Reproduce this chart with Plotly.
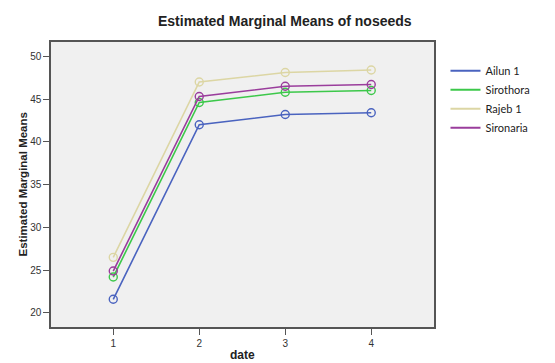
import plotly.graph_objects as go

dates = [1, 2, 3, 4]
series_names = ["Ailun 1", "Sirothora", "Rajeb 1", "Sironaria"]
ailun = [21.6, 42.0, 43.2, 43.4]
sirothora = [24.2, 44.6, 45.8, 46.0]
rajeb = [26.5, 47.0, 48.1, 48.4]
sironaria = [24.9, 45.3, 46.5, 46.7]
colors = ["#4a63bf", "#3cc84a", "#dcd6a4", "#9a3d9c"]
y_ticks = [20, 25, 30, 35, 40, 45, 50]

fig = go.Figure()
for name, vals, col in zip(series_names, [ailun, sirothora, rajeb, sironaria], colors):
    fig.add_trace(go.Scatter(
        x=dates, y=vals, name=name, mode="lines+markers", showlegend=False,
        line=dict(color=col, width=1.6),
        marker=dict(symbol="circle-open", size=8, color=col, line=dict(width=1.4, color=col)),
    ))
for name, col in zip(series_names, colors):
    fig.add_trace(go.Scatter(x=[None], y=[None], name=name, mode="lines",
                             line=dict(color=col, width=2)))

fig.update_layout(
    width=555, height=363,
    margin=dict(l=51, r=121, t=42, b=36),
    paper_bgcolor="white", plot_bgcolor="#f0f0f0",
    font=dict(family="Liberation Sans, Arial", color="#333333", size=10),
    showlegend=True,
    legend=dict(x=1.03, y=0.95, xanchor="left", yanchor="top",
                font=dict(family="Lato, Liberation Sans", size=11, color="#222"),
                tracegroupgap=0, itemwidth=30, bgcolor="rgba(0,0,0,0)"),
    annotations=[
        dict(text="<b>Estimated Marginal Means of noseeds</b>", xref="paper", yref="paper",
             x=0.61, y=1.0, yshift=21, xanchor="center", yanchor="middle", showarrow=False,
             font=dict(family="Liberation Sans, Arial", size=14, color="#222")),
        dict(text="<b>Estimated Marginal Means</b>", xref="paper", yref="paper",
             x=0, y=0.5, xshift=-29, xanchor="center", yanchor="middle", showarrow=False,
             textangle=-90, font=dict(family="Liberation Sans, Arial", size=11.5, color="#222")),
        dict(text="<b>date</b>", xref="paper", yref="paper",
             x=0.5, y=0, yshift=-28, xanchor="center", yanchor="middle", showarrow=False,
             font=dict(family="Liberation Sans, Arial", size=12, color="#222")),
    ],
    xaxis=dict(range=[0.276, 4.73], tickvals=dates, ticks="outside", ticklen=6, tickcolor="#555",
               automargin=False,
               showgrid=False, zeroline=False, showline=True, linecolor="#555", linewidth=1.5, mirror=True,
               tickfont=dict(size=10, color="#333")),
    yaxis=dict(range=[18.36, 51.67], tickvals=y_ticks, ticks="outside", ticklen=6, tickcolor="#555",
               automargin=False,
               showgrid=False, zeroline=False, showline=True, linecolor="#555", linewidth=1.5, mirror=True,
               tickfont=dict(size=10, color="#333")),
)
fig.write_html("out.html")
